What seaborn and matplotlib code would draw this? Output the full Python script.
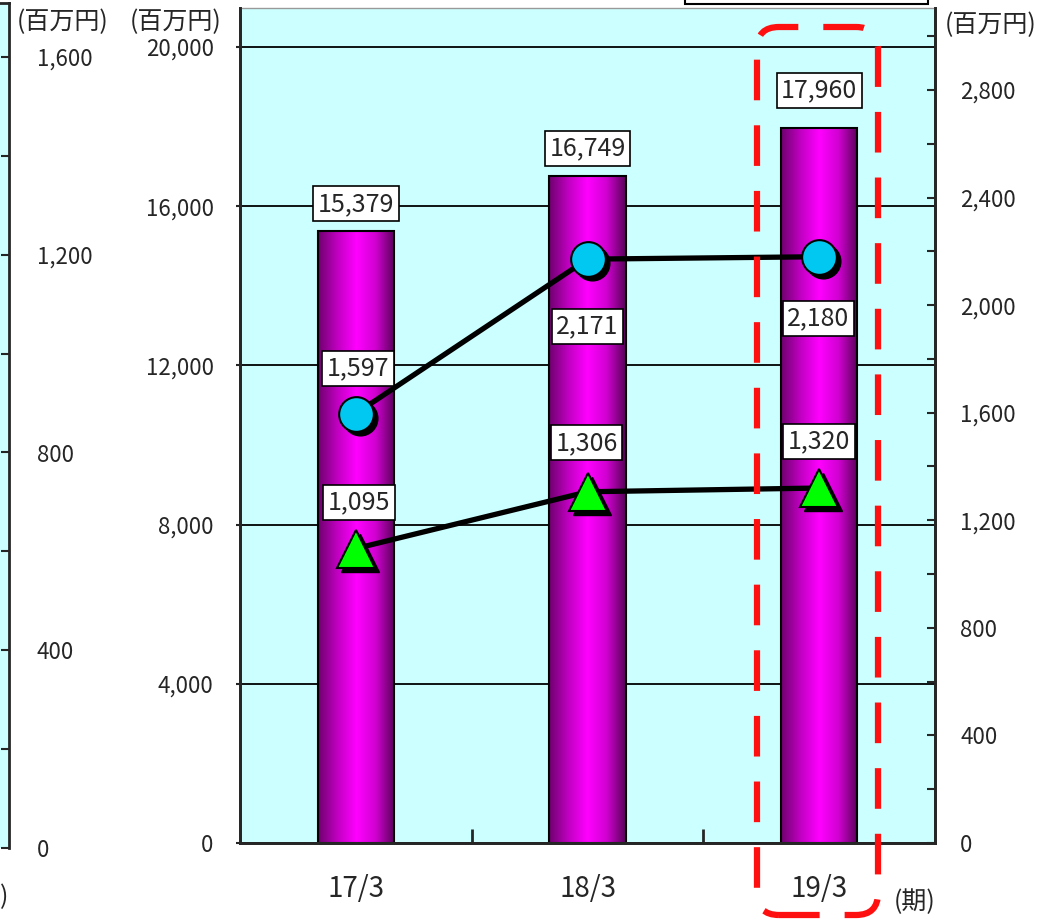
import numpy as np
import matplotlib
matplotlib.use("Agg")
import matplotlib.pyplot as plt
import seaborn as sns
from matplotlib.colors import LinearSegmentedColormap
from matplotlib.patches import FancyBboxPatch, Rectangle
from matplotlib.transforms import IdentityTransform, offset_copy

# data
periods = ["17/3", "18/3", "19/3"]
bar_values = [15379, 16749, 17960]
circle_values = [1597, 2171, 2180]
triangle_values = [1095, 1306, 1320]
left_ticks = [0, 4000, 8000, 12000, 16000, 20000]
right_ticks = [0, 400, 800, 1200, 1600, 2000, 2400, 2800]
side_ticks = [0, 400, 800, 1200, 1600]

sns.set_style("ticks")
plt.rcParams["font.family"] = ["Noto Sans CJK JP", "DejaVu Sans"]

W, H = 1054, 921
fig = plt.figure(figsize=(W / 100, H / 100), dpi=100)
bg = "#ccffff"
tick_fs = 16

def px_axes(x0, x1, y0, y1):
    return fig.add_axes([x0 / W, (H - y1) / H, (x1 - x0) / W, (y1 - y0) / H])

# sliver of the neighbouring chart on the far left
side = px_axes(0, 9, 3, 848)
side.set_facecolor(bg)
side.set_xlim(0, 1)
side.set_ylim(0, 1600 * 845 / 791)
side.yaxis.tick_right()
side.set_yticks(side_ticks)
side.set_yticklabels([f"{v:,}" for v in side_ticks], fontsize=tick_fs)
side.set_yticks(np.arange(0, 1601, 200), minor=True)
side.tick_params(axis="y", which="both", direction="in", length=6, width=1.5, pad=20)
side.set_xticks([])
for s in ["left", "bottom"]:
    side.spines[s].set_visible(False)
side.spines["right"].set_linewidth(2)
side.spines["top"].set_linewidth(2)

# main chart
ax = px_axes(240, 935, 8, 843)
ax.set_facecolor(bg)
sns.barplot(x=periods, y=bar_values, ax=ax, width=0.33, color="#ff00ff",
            edgecolor="black", linewidth=1.5, saturation=1)
ax.set_xlim(-0.5, 2.5)
ax.set_ylim(0, 20000 * 835 / 796)
ax.set_axisbelow(True)
ax.yaxis.grid(True, color="black", linewidth=1.3)
ax.set_yticks(left_ticks)
ax.set_yticklabels([f"{v:,}" for v in left_ticks], fontsize=tick_fs)
ax.tick_params(axis="y", direction="out", length=3, width=1.5, pad=16)
ax.tick_params(axis="x", which="major", length=0, pad=22, labelsize=20)
ax.set_xticks([0.5, 1.5], minor=True)
ax.tick_params(axis="x", which="minor", direction="in", length=10, width=2)
ax.set_xlabel("")
ax.set_ylabel("")
for s in ["left", "bottom", "right"]:
    ax.spines[s].set_linewidth(2)
ax.spines["top"].set_color("#999999")
ax.spines["top"].set_linewidth(1)

# cylinder shading on the bars
cyl = LinearSegmentedColormap.from_list(
    "cyl", ["#6e006e", "#c000c0", "#ff00ff", "#d000d0", "#580058"])
grad = np.linspace(0, 1, 256).reshape(1, -1)
for p in ax.patches:
    x0, y0 = p.get_x(), p.get_y()
    im = ax.imshow(grad, cmap=cyl, aspect="auto", zorder=p.get_zorder() + 0.1,
                   extent=[x0, x0 + p.get_width(), y0, y0 + p.get_height()])
    im.set_clip_path(p)
    p.set_facecolor("none")
    p.set_zorder(p.get_zorder() + 0.2)
ax.set_xlim(-0.5, 2.5)
ax.set_ylim(0, 20000 * 835 / 796)

box = dict(boxstyle="square,pad=0.18", fc="white", ec="black", lw=1.2)
lab_fs = 18
bar_offsets = [27, 28, 38]
for i, v in enumerate(bar_values):
    ax.annotate(f"{v:,}", (i, v), xytext=(0, bar_offsets[i]), textcoords="offset pixels",
                ha="center", va="center", fontsize=lab_fs, bbox=box, zorder=6)

# line series on the right axis
ax2 = ax.twinx()
ax2.set_ylim(0, 2800 * 835 / 753)
ax2.set_yticks(right_ticks)
ax2.set_yticklabels([f"{v:,}" for v in right_ticks], fontsize=tick_fs)
ax2.set_yticks(np.arange(0, 3001, 200), minor=True)
ax2.tick_params(axis="y", which="both", direction="in", length=6, width=1.5, pad=18)
for s in ["left", "bottom", "right"]:
    ax2.spines[s].set_linewidth(2)
ax2.spines["top"].set_visible(False)

xpos = np.arange(len(periods))
shadow = offset_copy(ax2.transData, fig=fig, x=4, y=-4, units="dots")
for vals, mk, ms, col in [(circle_values, "o", 25, "#00c8f0"),
                          (triangle_values, "^", 27, "#00ff00")]:
    sns.lineplot(x=xpos, y=vals, ax=ax2, color="black", linewidth=3.8, zorder=3)
    ax2.plot(xpos, vals, linestyle="none", marker=mk, markersize=ms, color="black",
             transform=shadow, zorder=4)
    ax2.plot(xpos, vals, linestyle="none", marker=mk, markersize=ms,
             markerfacecolor=col, markeredgecolor="black", markeredgewidth=1.5, zorder=5)
ax2.set_ylabel("")

circle_offsets = [(2, 45), (0, -67), (-1, -62)]
triangle_offsets = [(3, 46), (-1, 49), (0, 47)]
for vals, offs in [(circle_values, circle_offsets), (triangle_values, triangle_offsets)]:
    for i, v in enumerate(vals):
        ax2.annotate(f"{v:,}", (i, v), xytext=offs[i], textcoords="offset pixels",
                     ha="center", va="center", fontsize=lab_fs, bbox=box, zorder=6)

# unit labels
unit_fs = 18
fig.text(63 / W, 1 - 22 / H, "(百万円)", ha="center", va="center", fontsize=unit_fs)
fig.text(176 / W, 1 - 22 / H, "(百万円)", ha="center", va="center", fontsize=unit_fs)
fig.text(991 / W, 1 - 25 / H, "(百万円)", ha="center", va="center", fontsize=unit_fs)
fig.text(915 / W, 1 - 902 / H, "(期)", ha="center", va="center", fontsize=unit_fs)
fig.text(8 / W, 1 - 897 / H, ")", ha="right", va="center", fontsize=unit_fs)

# cut-off legend frame at the top
fig.patches.append(Rectangle((685, H - 4), 243, 30, transform=IdentityTransform(),
                             fc="white", ec="black", lw=1.5, zorder=10))

# red dashed highlight around the latest period
fig.patches.append(FancyBboxPatch((777, 26), 81, 848, boxstyle="round,pad=20,rounding_size=22",
                                  transform=IdentityTransform(), fill=False, ec="#ff1010",
                                  lw=4.5, linestyle=(0, (6.5, 4)), zorder=10))

fig.savefig("out.png", dpi=100)
